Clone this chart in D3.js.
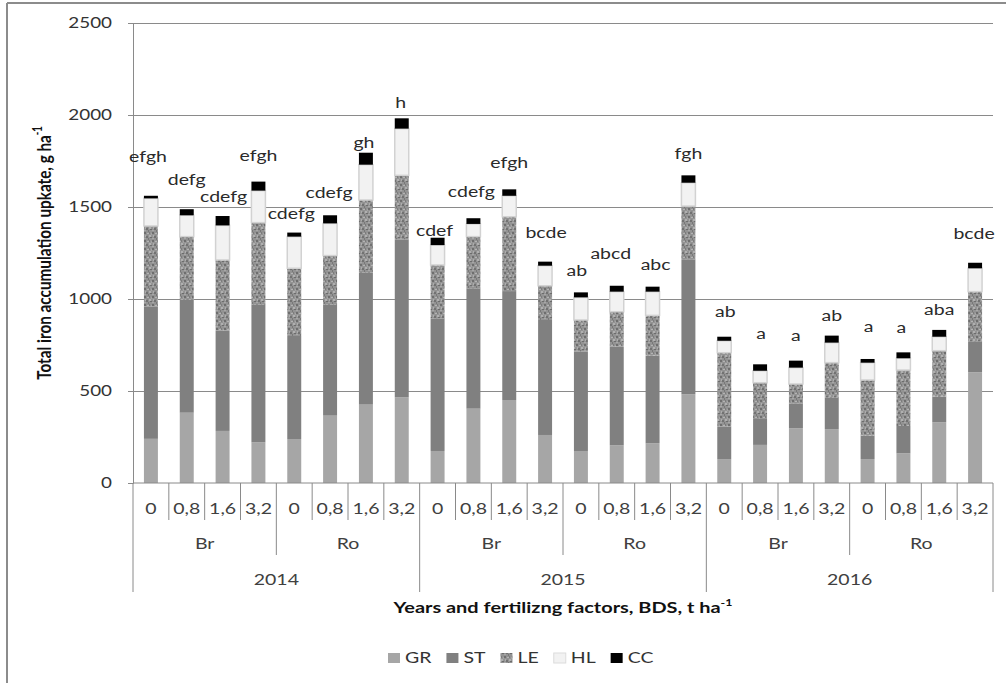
<!DOCTYPE html>
<html>
<head>
<meta charset="utf-8">
<script src="https://cdn.jsdelivr.net/npm/d3@7"></script>
<style>
  html, body { margin: 0; padding: 0; background: #fff; }
  svg { display: block; font-family: Lato, "Open Sans", sans-serif; }
</style>
</head>
<body>
<svg id="chart" width="1006" height="683"></svg>
<script>
// Fertilizing levels, soil groups and years that make up the category axis
const doses = ["0", "0,8", "1,6", "3,2"];
const soils = ["Br", "Ro"];
const years = ["2014", "2015", "2016"];

// Iron uptake per plant part, g ha-1 (one value per category, in axis order)
const GR = [240, 382, 283, 221, 239, 366, 426, 466, 174, 404, 451, 261, 174, 205, 216, 482, 130, 207, 297, 293, 130, 161, 330, 602];
const ST = [720, 613, 545, 748, 560, 603, 717, 858, 721, 654, 592, 625, 540, 536, 476, 734, 176, 141, 136, 171, 127, 149, 139, 168];
const LE = [437, 344, 384, 446, 368, 267, 395, 348, 290, 281, 404, 186, 172, 190, 219, 289, 402, 197, 105, 190, 303, 304, 250, 270];
const HL = [150, 116, 188, 174, 172, 175, 192, 254, 108, 69, 114, 109, 123, 109, 129, 127, 65, 65, 89, 109, 94, 64, 76, 127];
const CC = [14, 33, 51, 49, 22, 44, 65, 56, 40, 31, 35, 22, 27, 32, 27, 40, 22, 35, 38, 38, 20, 32, 37, 30];

// Significance letters shown above each column
const letters = ["efgh", "defg", "cdefg", "efgh", "cdefg", "cdefg", "gh", "h",
                 "cdef", "cdefg", "efgh", "bcde", "ab", "abcd", "abc", "fgh",
                 "ab", "a", "a", "ab", "a", "a", "aba", "bcde"];

const yTicks = [0, 500, 1000, 1500, 2000, 2500];
const seriesKeys = ["GR", "ST", "LE", "HL", "CC"];

// Placement tweaks for the letters (pixels relative to the column top)
const letterDx = [-3, 0, 1, 0, -3, -1, -2, -1, -3, -2, 0, 1, -4, -6, 3, 0, 1, 1, 0, 0, 1, -2, 0, -1];
const letterDy = [-39, -29, -19, -26, -19, -23, -10, -16, -7, -26, -27, -29, -22, -32, -22, -22, -25, -31, -25, -20, -32, -25, -20, -29];

const SX = 1.3; // horizontal text widening used throughout
const colors = { GR: "#a6a6a6", ST: "#808080", LE: "url(#lePattern)", HL: "#f2f2f2", CC: "#000000" };
const gridColor = "#8a8a8a";

// Category table
const cats = [];
years.forEach(yr => soils.forEach(s => doses.forEach(d => cats.push({ year: yr, soil: s, dose: d }))));
const rows = cats.map((c, i) => ({ i, GR: GR[i], ST: ST[i], LE: LE[i], HL: HL[i], CC: CC[i] }));

const svg = d3.select("#chart");

// Mottled fill for the LE series
const defs = svg.append("defs");
const pat = defs.append("pattern").attr("id", "lePattern").attr("patternUnits", "userSpaceOnUse")
  .attr("width", 8).attr("height", 8);
pat.append("rect").attr("width", 8).attr("height", 8).attr("fill", "#939393");
[[0,0,2,2,"#6e6e6e"],[3,1,2,1,"#b4b4b4"],[5,0,1,2,"#7c7c7c"],[1,3,1,2,"#adadad"],[2,4,2,2,"#727272"],
 [5,3,2,2,"#b0b0b0"],[6,5,2,1,"#6c6c6c"],[0,6,2,1,"#a8a8a8"],[4,6,1,2,"#787878"],[7,1,1,2,"#a4a4a4"],[3,3,1,1,"#888"]]
  .forEach(([px, py, w, h, f]) => pat.append("rect").attr("x", px).attr("y", py).attr("width", w).attr("height", h).attr("fill", f));

// Outer frame
svg.append("line").attr("x1", 7).attr("x2", 1006).attr("y1", 3).attr("y2", 3).attr("stroke", "#8c8c8c").attr("stroke-width", 2);
svg.append("line").attr("x1", 7).attr("x2", 7).attr("y1", 3).attr("y2", 683).attr("stroke", "#8c8c8c").attr("stroke-width", 2);

const plotLeft = 133, plotRight = 993, plotTop = 23, plotBottom = 483;
const x = d3.scaleBand().domain(d3.range(cats.length)).range([plotLeft, plotRight]).paddingInner(0.61).paddingOuter(0.305);
const y = d3.scaleLinear().domain([0, 2500]).range([plotBottom, plotTop]);
const step = x.step();

function label(g, px, py, str, opt = {}) {
  const t = g.append("text")
    .attr("transform", `translate(${px},${py}) scale(${opt.sx || SX},1)` + (opt.rotate ? ` rotate(${opt.rotate})` : ""))
    .attr("text-anchor", opt.anchor || "middle")
    .attr("dy", "0.35em")
    .attr("font-size", opt.size || 15)
    .attr("font-weight", opt.weight || "normal")
    .attr("fill", opt.fill || "#333");
  t.append("tspan").text(str);
  if (opt.sup) t.append("tspan").attr("font-size", (opt.size || 15) * 0.62).attr("dy", "-0.75em").text(opt.sup);
  return t;
}

// Gridlines
const grid = svg.append("g").attr("transform", `translate(${plotLeft},0)`)
  .call(d3.axisLeft(y).tickValues(yTicks.filter(v => v > 0)).tickSize(-(plotRight - plotLeft)).tickFormat(""));
grid.select(".domain").remove();
grid.selectAll("line").attr("stroke", gridColor).attr("stroke-width", 1);

// Y axis
const yAxis = svg.append("g").attr("transform", `translate(${plotLeft},0)`)
  .call(d3.axisLeft(y).tickValues(yTicks).tickSize(5).tickFormat(""));
yAxis.select(".domain").attr("stroke", gridColor);
yAxis.selectAll("line").attr("stroke", gridColor);
yTicks.forEach(v => label(svg, 112, y(v), String(v), { anchor: "end", size: 14.5, fill: "#333" }));

// Stacked columns
const stacked = d3.stack().keys(seriesKeys)(rows);
svg.append("g").selectAll("g").data(stacked).join("g")
  .attr("fill", d => colors[d.key])
  .attr("stroke", d => d.key === "HL" ? "#d2d2d2" : "none")
  .attr("stroke-width", 1.5)
  .selectAll("rect").data(d => d).join("rect")
  .attr("x", d => x(d.data.i))
  .attr("width", x.bandwidth())
  .attr("y", d => y(d[1]))
  .attr("height", d => y(d[0]) - y(d[1]));

// Significance letters
const lettersG = svg.append("g");
rows.forEach((r, i) => {
  const total = seriesKeys.reduce((s, k) => s + r[k], 0);
  label(lettersG, x(i) + x.bandwidth() / 2 + letterDx[i], y(total) + letterDy[i], letters[i], { size: 15, fill: "#2a2a2a" });
});

// Multi-level category axis
const axisG = svg.append("g").attr("stroke", gridColor).attr("stroke-width", 1);
axisG.append("line").attr("x1", plotLeft).attr("x2", plotRight).attr("y1", plotBottom).attr("y2", plotBottom);
for (let k = 0; k <= cats.length; k++) {
  const bx = plotLeft + k * step;
  let y2 = 520;
  if (k % 4 === 0) y2 = 555;
  if (k % 8 === 0) y2 = 592;
  axisG.append("line").attr("x1", bx).attr("x2", bx).attr("y1", plotBottom).attr("y2", y2);
}
const tickG = svg.append("g");
cats.forEach((c, i) => label(tickG, x(i) + x.bandwidth() / 2, 509, c.dose, { size: 15, fill: "#404040" }));
for (let gi = 0; gi < cats.length / 4; gi++) {
  label(tickG, plotLeft + (gi * 4 + 2) * step, 544, cats[gi * 4].soil, { size: 15, fill: "#404040" });
}
for (let yi = 0; yi < years.length; yi++) {
  label(tickG, plotLeft + (yi * 8 + 4) * step, 580, years[yi], { size: 15, fill: "#404040" });
}

// Axis titles
label(svg, (plotLeft + plotRight) / 2, 608, "Years and fertilizng factors, BDS, t ha", { size: 15, sx: 1.33, weight: "bold", fill: "#111", sup: "-1" });
label(svg, 44, (plotTop + plotBottom) / 2, "Total iron accumulation upkate, g ha", { size: 15.3, weight: "bold", fill: "#111", rotate: -90, sup: "-1" });

// Legend
const legendG = svg.append("g");
let lx = 388;
seriesKeys.forEach(k => {
  legendG.append("rect").attr("x", lx).attr("y", 653).attr("width", 12).attr("height", 10)
    .attr("fill", colors[k]).attr("stroke", k === "HL" ? "#dcdcdc" : "none");
  const t = label(legendG, lx + 17, 658, k, { anchor: "start", size: 15, fill: "#333" });
  lx += 17 + t.node().getComputedTextLength() * SX + 15;
});
</script>
</body>
</html>
